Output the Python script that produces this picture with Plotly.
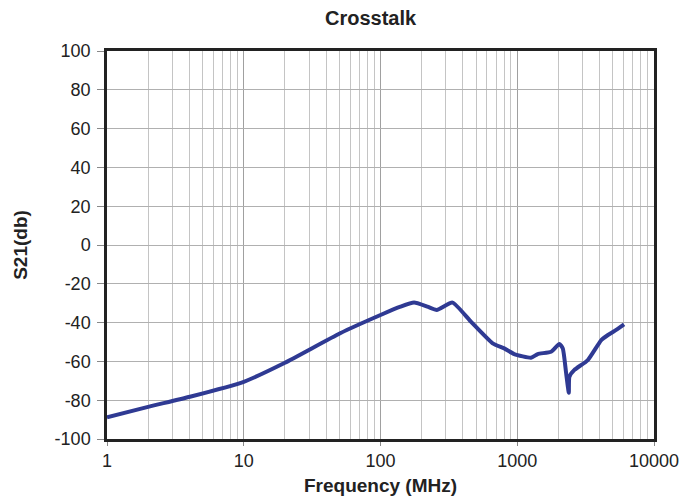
import plotly.graph_objects as go

freq_mhz = [1, 2.03, 4.04, 10, 20, 50.7, 100, 140, 176, 220, 258, 336, 458, 661, 803,
            951, 1261, 1412, 1767, 2033, 2153, 2277, 2382, 2406, 2618, 3282, 4115, 4606, 5155, 6040]
s21_db = [-88.8, -83.3, -78.2, -70.5, -60.7, -45.5, -36.1, -31.8, -29.7, -31.8, -33.5, -29.7, -39.5, -50.7, -53.3,
          -56.2, -58.1, -56.2, -55.0, -51.0, -53.3, -66.0, -76.1, -67.9, -64.4, -59.3, -49.0, -46.4, -44.3, -40.9]

y_ticks = [-100, -80, -60, -40, -20, 0, 20, 40, 60, 80, 100]
y_tick_labels = ["-100", "-80", "-60", "-40", "-20", "0", "20", "40", "60", "80", "100"]
x_ticks = [1, 10, 100, 1000, 10000]
x_tick_labels = ["1", "10", "100", "1000", "10000"]

fig = go.Figure()
fig.add_trace(go.Scatter(
    x=freq_mhz, y=s21_db, mode="lines",
    line=dict(color="#2f3a93", width=4, shape="spline", smoothing=0.5),
    showlegend=False,
))

font = "Liberation Sans, Arial, sans-serif"
fig.update_layout(
    width=700, height=502,
    margin=dict(l=99, r=54, t=43, b=71),
    paper_bgcolor="white", plot_bgcolor="white",
    title=dict(text="<b>Crosstalk</b>", x=0.518, xref="container", xanchor="center",
               y=0.98, yref="container", yanchor="middle",
               font=dict(family=font, size=20, color="#222")),
    font=dict(family=font, size=18, color="#222"),
)
fig.update_xaxes(
    type="log", range=[0, 4], automargin=False,
    tickvals=x_ticks, ticktext=x_tick_labels,
    ticks="outside", ticklen=4, tickcolor="#888",
    showline=True, linecolor="#222", linewidth=2.5, mirror=True,
    showgrid=True, gridcolor="#a0a0a0", gridwidth=1,
    minor=dict(dtick="D1", showgrid=True, gridcolor="#c4c4c4", gridwidth=1),
    title=dict(text="<b>Frequency (MHz)</b>", font=dict(size=19), standoff=9),
    zeroline=False,
)
fig.update_yaxes(
    range=[-100, 100], tickvals=y_ticks, ticktext=y_tick_labels, automargin=False,
    ticks="outside", ticklen=7, tickcolor="#888", ticklabelstandoff=3,
    showline=True, linecolor="#222", linewidth=2.5, mirror=True,
    showgrid=True, gridcolor="#b0b0b0", gridwidth=1,
    title=dict(text="<b>S21(db)</b>", font=dict(size=19), standoff=22),
    zeroline=False,
)

fig.write_html("out.html")
